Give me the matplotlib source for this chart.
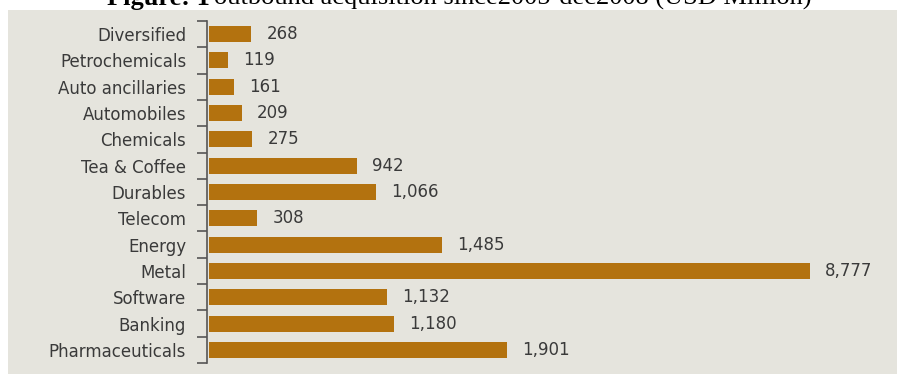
import matplotlib
matplotlib.use("Agg")
import matplotlib.pyplot as plt
from matplotlib.patches import Rectangle

categories = ["Diversified", "Petrochemicals", "Auto ancillaries", "Automobiles",
              "Chemicals", "Tea & Coffee", "Durables", "Telecom", "Energy",
              "Metal", "Software", "Banking", "Pharmaceuticals"]
values = [268, 119, 161, 209, 275, 942, 1066, 308, 1485, 8777, 1132, 1180, 1901]
value_labels = ["268", "119", "161", "209", "275", "942", "1,066", "308",
                "1,485", "8,777", "1,132", "1,180", "1,901"]

W, H = 897, 374
fig = plt.figure(figsize=(W / 100, H / 100), dpi=100)
fig.patch.set_facecolor("white")

# light panel
panel = Rectangle((8 / W, 0), 1 - 8 / W, 1 - 10 / H,
                  transform=fig.transFigure, facecolor="#e5e4dd",
                  edgecolor="none", zorder=-5)
fig.patches.append(panel)

# title (cut off at top, as in the reference)
fig.text(210 / W, 1 - 4.5 / H, "Figure: 1", ha="right", va="baseline",
         fontsize=19, fontweight="bold", family="Liberation Serif", color="black")
fig.text(214 / W, 1 - 4.5 / H,
         "outbound acquisition since2005-dec2008 (USD Million)",
         ha="left", va="baseline", fontsize=19, family="Liberation Serif",
         color="black")

ax = fig.add_axes([207 / W, 1 - 363 / H, (810 - 207) / W, (363 - 21) / H])
ax.set_facecolor("none")
ax.set_zorder(2)

pos = list(range(len(categories)))
ax.barh(pos, values, height=0.61, color="#b3720f", edgecolor="none", zorder=2)

ax.set_ylim(len(categories) - 0.5, -0.5)
ax.set_xlim(-13, 3830)

for s in ["top", "right", "bottom"]:
    ax.spines[s].set_visible(False)
ax.spines["left"].set_color("#555555")
ax.spines["left"].set_linewidth(1.2)
ax.set_xticks([])

# boundary ticks
ax.set_yticks([p - 0.5 for p in pos] + [len(categories) - 0.5])
ax.tick_params(axis="y", which="major", direction="out", length=7,
               width=1.2, color="#555555", labelleft=False)
# labels at centers
ax.set_yticks(pos, minor=True)
ax.set_yticklabels(categories, minor=True)
ax.tick_params(axis="y", which="minor", length=0, pad=15,
               labelsize=12, labelcolor="#3a3a3a")

xmax = ax.get_xlim()[1]
for p, v, lab in zip(pos, values, value_labels):
    ax.annotate(lab, xy=(min(v, xmax), p), xytext=(11, 0),
                textcoords="offset points", ha="left", va="center",
                fontsize=12, color="#3a3a3a", annotation_clip=False)

fig.savefig("out.png", dpi=100)
